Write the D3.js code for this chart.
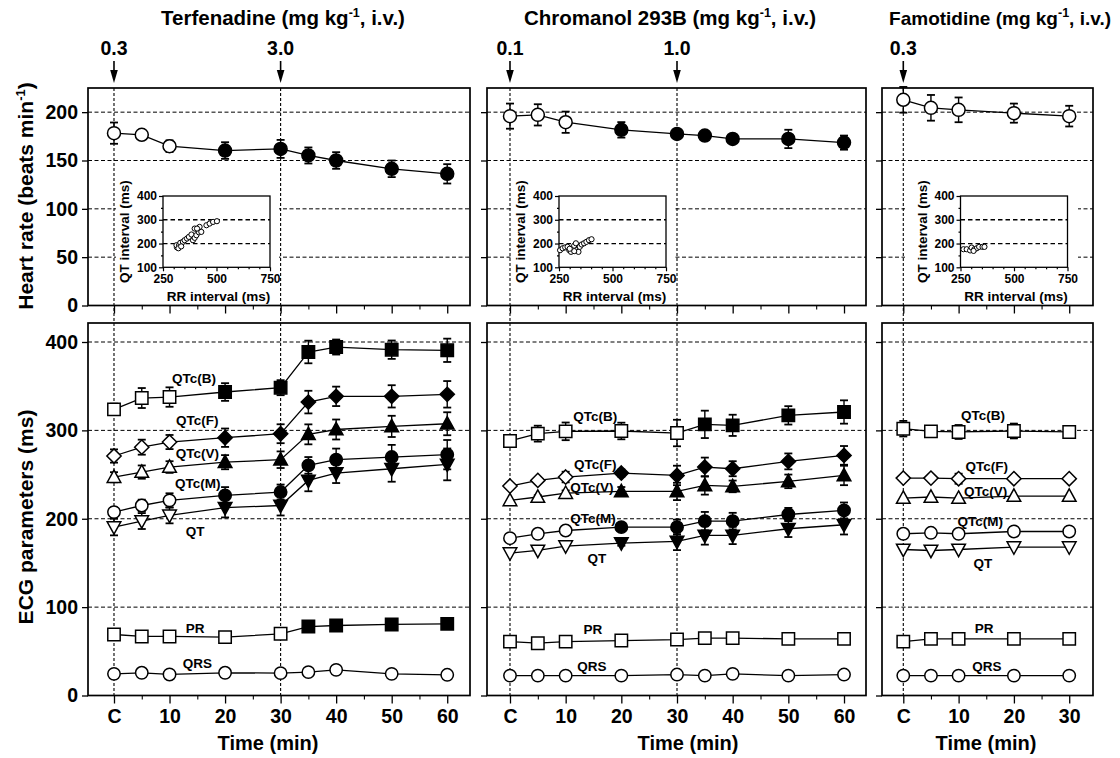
<!DOCTYPE html>
<html><head><meta charset="utf-8">
<script src="https://cdn.jsdelivr.net/npm/d3@7"></script>
<style>
body{margin:0;background:#fff;}
svg text{font-family:"Liberation Sans",Arial,Helvetica,sans-serif;font-weight:bold;fill:#000;}
</style></head><body>
<svg id="chart" width="1120" height="758"></svg>
<script>
// ---------------- DATA ----------------
const timesLong = [0,5,10,20,30,35,40,50,60];
const timesShort = [0,5,10,20,30];
const timeTicksLong = [0,10,20,30,40,50,60];
const timeTicksShort = [0,10,20,30];
const hrTicks = [0,50,100,150,200];
const ecgTicks = [0,100,200,300,400];
const insetYTicks = [100,200,300,400];
const insetXTicks = [250,500,750];

const drugNames = ["Terfenadine","Chromanol 293B","Famotidine"];
const doseLabels = [["0.3","3.0"],["0.1","1.0"],["0.3"]];
const doseTimes = [[0,30],[0,30],[0]];

const seriesNames = ["QTc(B)","QTc(F)","QTc(V)","QTc(M)","QT","PR","QRS"];
const seriesShapes = ["square","diamond","triangle","circle","triangleDown","square","circle"];

// Heart rate (beats/min)
const terfHR    = [178.3,176.6,164.8,160.3,162,155.2,150,141.4,136.2];
const terfHRErr = [11,2,6,8.6,9.3,8.3,8.6,8.6,10];
const chromHR    = [195.9,197.2,189.6,181.7,177.5,175.8,172.3,172.3,168.5];
const chromHRErr = [13,11,11,8,0,0,0,9.5,7.3];
const famoHR    = [212.8,204.5,202.4,199,195.9];
const famoHRErr = [13.3,13.3,12.8,9.9,10.7];
const hrSigFrom = [3,3,99];

// Terfenadine ECG (ms)
const terfQTcB = [323.8,336.6,337.7,343.4,348.3,388.7,394.3,391.3,390.6];
const terfQTcBErr = [6.4,11.3,11,10,8.5,12.8,8.5,10.4,13.2];
const terfQTcF = [271,281,286.8,291.7,296.2,332,338.5,338.5,340.8];
const terfQTcFErr = [7.5,8.5,8,10.4,10.7,12.8,11,12.6,15];
const terfQTcV = [247,252.8,258.5,264,266.8,295.5,301,304.5,307.5];
const terfQTcVErr = [5.7,7.5,6.6,8,9.4,11.3,11.3,12,13];
const terfQTcM = [207.5,215,220.8,226.4,230.2,260.4,266.8,269.8,272.5];
const terfQTcMErr = [5.3,6.6,8,9.4,8.5,9.4,12.6,13.8,16.6];
const terfQT = [190.6,197.4,203.8,212.5,215,243.4,251.7,256.6,261.5];
const terfQTErr = [9.4,9,9,11,11.3,12.3,11.3,14.7,18];
const terfPR = [69,66.8,66.8,66,69.8,78,79.2,80.4,81.1];
const terfQRS = [24.5,25.7,23.8,25.7,25.3,26.4,29,24.5,23.4];
const terfSigFrom = [3,3,3,3,3,5,99];
const terfLabelT = [14.4,15,15,15.1,14.6,14.6,15];
const terfLabelV = [359,311.7,274.4,240.5,186,76.4,36.8];

// Chromanol 293B ECG (ms)
const chromQTcB = [288,296.3,298.9,299.3,297,306.8,305.7,317,320.8];
const chromQTcBErr = [4.7,9,10,9.4,15,15.5,12,10.4,13.2];
const chromQTcF = [237,243.4,247.2,251.7,249,258.5,256.6,264.9,271.7];
const chromQTcFErr = [0,0,6,4,11,10.7,8.5,9,10.6];
const chromQTcV = [220.7,224.6,229,230.9,230.9,237.7,236.6,242.3,249];
const chromQTcVErr = [0,2,3,5,9.8,10.4,6.6,7.7,11];
const chromQTcM = [178,183,186.7,190.5,190.5,197.3,197.3,204.8,209.4];
const chromQTcMErr = [0,0,0,3,8.5,10.4,9.4,7.5,9];
const chromQT = [161.1,164.1,169.1,172.5,174.3,181.1,181.1,188.7,193.2];
const chromQTErr = [0,0,0,3,9.8,10.4,9.8,9.4,11];
const chromPR = [61,59.2,61,62.2,63.3,64.9,64.9,64.1,64.1];
const chromQRS = [22.5,22.5,22.5,22.5,23.7,22.5,24.5,22.5,23.7];
const chromSigFrom = [5,3,3,3,3,99,99];
const chromLabelT = [15.3,15.3,14.7,14.9,15.6,14.9,14.7];
const chromLabelV = [316,261.9,235.8,200.7,155.5,75.1,33.4];

// Famotidine ECG (ms)
const famoQTcB = [301.9,298.9,298.2,299.3,298.2];
const famoQTcBErr = [8.8,4.5,7.9,8.4,2];
const famoQTcF = [246,246,245.3,245.3,245.3];
const famoQTcFErr = [0,0,5.7,0,0];
const famoQTcV = [223.4,224.6,223.4,225.7,225.7];
const famoQTcM = [183,184.1,183,185.6,185.6];
const famoQT = [165.2,164.1,165.2,167.9,167.9];
const famoPR = [61,64.1,64.1,64.1,64.1];
const famoQRS = [22.5,22.5,22.5,22.5,22.5];
const famoSigFrom = [99,99,99,99,99,99,99];
const famoLabelT = [14.4,15.1,14.9,13.9,14.4,14.6,15.1];
const famoLabelV = [317.1,259.4,231.1,197.2,149.7,76.4,33.4];

// Inset QT vs RR scatter (ms)
const terfRR = [315,313,325,331,343,351,362,371,383,390,398,406,414,421,418,429,398,409,453,468,484,502,322,335];
const terfQTi = [184,193,193,203,207,214,221,228,238,214,224,235,256,270,247,249,263,263,277,284,291,294,180,188];
const chromRR = [255,267,279,290,298,306,313,321,329,332,341,347,356,367,378,390,402,321,300];
const chromQTi = [172,180,184,186,172,165,180,191,201,172,165,186,196,201,207,214,218,168,178];
const famoRR = [264,279,295,302,315,326,337,353,362,311];
const famoQTi = [176,176,171,183,176,180,186,186,186,169];

// ---------------- LAYOUT ----------------
const W = 1120, H = 758;
const panelX = [[88,470],[487,866],[882,1093]];
const timeDomains = [[-4.68,64.1],[-4.13,63.95],[-3.85,34.3]];
const topY = [88,305.5], botY = [323,695.5];
const insetX0 = [163,559,960.5], insetW = 107, insetY = [196,267.3];
const insetMask = [[116,279],[512,675],[905,1078]], insetMaskY = [176,303];
const titlePos = [[283,'middle',20.5],[670,'middle',20.5],[1111,'end',19]];
const timeLabelX = [268,688,986];
const ff = '"Liberation Sans",Arial,Helvetica,sans-serif';

const drugs = [
  {times: timesLong, ticks: timeTicksLong, hr: terfHR, hrErr: terfHRErr,
   ser: [terfQTcB,terfQTcF,terfQTcV,terfQTcM,terfQT,terfPR,terfQRS],
   err: [terfQTcBErr,terfQTcFErr,terfQTcVErr,terfQTcMErr,terfQTErr,null,null],
   sig: terfSigFrom, lt: terfLabelT, lv: terfLabelV, rr: terfRR, qt: terfQTi},
  {times: timesLong, ticks: timeTicksLong, hr: chromHR, hrErr: chromHRErr,
   ser: [chromQTcB,chromQTcF,chromQTcV,chromQTcM,chromQT,chromPR,chromQRS],
   err: [chromQTcBErr,chromQTcFErr,chromQTcVErr,chromQTcMErr,chromQTErr,null,null],
   sig: chromSigFrom, lt: chromLabelT, lv: chromLabelV, rr: chromRR, qt: chromQTi},
  {times: timesShort, ticks: timeTicksShort, hr: famoHR, hrErr: famoHRErr,
   ser: [famoQTcB,famoQTcF,famoQTcV,famoQTcM,famoQT,famoPR,famoQRS],
   err: [famoQTcBErr,famoQTcFErr,null,null,null,null,null],
   sig: famoSigFrom, lt: famoLabelT, lv: famoLabelV, rr: famoRR, qt: famoQTi}
];

const svg = d3.select('#chart');
svg.append('rect').attr('width',W).attr('height',H).attr('fill','#fff');

function shapePath(shape, s){
  switch(shape){
    case 'square': return `M${-s},${-s}H${s}V${s}H${-s}Z`;
    case 'diamond': { const d=s*1.15; return `M0,${-d}L${d},0L0,${d}L${-d},0Z`; }
    case 'triangle': return `M0,${-s*1.15}L${s*1.1},${s*0.85}L${-s*1.1},${s*0.85}Z`;
    case 'triangleDown': return `M0,${s*1.15}L${s*1.1},${-s*0.85}L${-s*1.1},${-s*0.85}Z`;
  }
  return null;
}

function drawSeries(g, x, y, times, vals, errs, sigFrom, shape, size){
  const pts = times.map((t,i)=>({t, v: vals[i], e: errs ? errs[i] : 0, f: i >= sigFrom}));
  g.append('path').datum(pts)
    .attr('d', d3.line().x(d=>x(d.t)).y(d=>y(d.v)))
    .attr('fill','none').attr('stroke','#000').attr('stroke-width',1.3);
  const eb = g.append('g').attr('stroke','#000').attr('stroke-width',1.4);
  pts.filter(d=>d.e>0).forEach(d=>{
    const cx = x(d.t), y1 = y(d.v-d.e), y2 = y(d.v+d.e);
    eb.append('line').attr('x1',cx).attr('x2',cx).attr('y1',y1).attr('y2',y2);
    eb.append('line').attr('x1',cx-4).attr('x2',cx+4).attr('y1',y1).attr('y2',y1).attr('stroke-width',1.8);
    eb.append('line').attr('x1',cx-4).attr('x2',cx+4).attr('y1',y2).attr('y2',y2).attr('stroke-width',1.8);
  });
  pts.forEach(d=>{
    let m;
    if(shape==='circle'){
      m = g.append('circle').attr('cx',x(d.t)).attr('cy',y(d.v)).attr('r',size);
    } else {
      m = g.append('path').attr('d',shapePath(shape,size)).attr('transform',`translate(${x(d.t)},${y(d.v)})`);
    }
    m.attr('fill', d.f ? '#000' : '#fff').attr('stroke','#000').attr('stroke-width',1.5);
  });
}

function minorTicks(domain, step){
  const out=[]; for(let t=Math.ceil(domain[0]/step)*step; t<=domain[1]; t+=step){ if(t%10!==0) out.push(t);} return out;
}

drugs.forEach((dr, p)=>{
  const [x0,x1] = panelX[p];
  const x = d3.scaleLinear().domain(timeDomains[p]).range([x0,x1]);
  const yT = d3.scaleLinear().domain([0,225]).range([topY[1],topY[0]]);
  const yB = d3.scaleLinear().domain([0,421.5]).range([botY[1],botY[0]]);
  const g = svg.append('g');

  // title
  const tt = g.append('text').attr('x',titlePos[p][0]).attr('y',25).attr('text-anchor',titlePos[p][1]).attr('font-size',titlePos[p][2]);
  tt.append('tspan').text(drugNames[p]+' (mg kg');
  tt.append('tspan').attr('font-size',12.5).attr('dy',-8).text('-1');
  tt.append('tspan').attr('dy',8).text(', i.v.)');

  // dose labels & arrows
  doseTimes[p].forEach((dt,k)=>{
    const cx = x(dt);
    g.append('text').attr('x',cx).attr('y',55).attr('text-anchor','middle').attr('font-size',19.5).text(doseLabels[p][k]);
    g.append('line').attr('x1',cx).attr('x2',cx).attr('y1',61).attr('y2',72).attr('stroke','#000').attr('stroke-width',1.6);
    g.append('path').attr('d',`M${cx-3.8},${70}L${cx+3.8},${70}L${cx},${83}Z`).attr('fill','#000');
  });

  // gridlines
  const grid = g.append('g').attr('stroke','#000').attr('stroke-width',1).attr('stroke-dasharray','4,2.5');
  hrTicks.filter(v=>v>0).forEach(v=>grid.append('line').attr('x1',x0).attr('x2',x1).attr('y1',yT(v)).attr('y2',yT(v)));
  ecgTicks.filter(v=>v>0).forEach(v=>grid.append('line').attr('x1',x0).attr('x2',x1).attr('y1',yB(v)).attr('y2',yB(v)));

  // inset mask (white background)
  g.append('rect').attr('x',insetMask[p][0]).attr('y',insetMaskY[0])
    .attr('width',insetMask[p][1]-insetMask[p][0]).attr('height',insetMaskY[1]-insetMaskY[0]).attr('fill','#fff');

  // dose vertical lines
  doseTimes[p].forEach(dt=>{
    g.append('line').attr('x1',x(dt)).attr('x2',x(dt)).attr('y1',topY[0]).attr('y2',botY[1])
      .attr('stroke','#000').attr('stroke-width',1.1).attr('stroke-dasharray','3,2');
  });

  // frames
  [topY, botY].forEach(yy=>{
    g.append('rect').attr('x',x0).attr('y',yy[0]).attr('width',x1-x0).attr('height',yy[1]-yy[0])
      .attr('fill','none').attr('stroke','#000').attr('stroke-width',1.7);
  });

  // y axes
  const yaT = d3.axisLeft(yT).tickValues(hrTicks).tickSize(6).tickPadding(4);
  const yaB = d3.axisLeft(yB).tickValues(ecgTicks).tickSize(6).tickPadding(4);
  if(p>0){ yaT.tickFormat(''); yaB.tickFormat(''); }
  [[yaT],[yaB]].forEach(([ax])=>{
    const a = g.append('g').attr('transform',`translate(${x0},0)`).call(ax);
    a.select('.domain').remove();
    a.selectAll('line').attr('stroke','#000').attr('stroke-width',1.3);
    a.selectAll('text').attr('font-size',19.5).attr('font-family',ff).attr('font-weight','bold').attr('fill','#000');
  });

  // x axes (top: ticks only, bottom: labels)
  const mt = minorTicks(timeDomains[p],5);
  [[topY[1],false],[botY[1],true]].forEach(([yy,lab])=>{
    const ax = d3.axisBottom(x).tickValues(dr.ticks).tickSize(8).tickPadding(6)
      .tickFormat(lab ? (d=> d===0 ? 'C' : String(d)) : '');
    const a = g.append('g').attr('transform',`translate(0,${yy})`).call(ax);
    a.select('.domain').remove();
    a.selectAll('line').attr('stroke','#000').attr('stroke-width',1.3);
    a.selectAll('text').attr('font-size',19.5).attr('font-family',ff).attr('font-weight','bold').attr('fill','#000');
    const am = g.append('g').attr('transform',`translate(0,${yy})`).call(d3.axisBottom(x).tickValues(mt).tickSize(4).tickFormat(''));
    am.select('.domain').remove();
    am.selectAll('line').attr('stroke','#000').attr('stroke-width',1.1);
  });

  // time label
  g.append('text').attr('x',timeLabelX[p]).attr('y',750).attr('text-anchor','middle').attr('font-size',20).text('Time (min)');

  // heart-rate series
  drawSeries(g.append('g'), x, yT, dr.times, dr.hr, dr.hrErr, hrSigFrom[p], 'circle', 6.5);

  // ECG series
  dr.ser.forEach((vals,i)=>{
    drawSeries(g.append('g'), x, yB, dr.times, vals, dr.err[i], dr.sig[i], seriesShapes[i], 6.2);
    g.append('text').attr('x',x(dr.lt[i])).attr('y',yB(dr.lv[i])).attr('dy','0.35em')
      .attr('text-anchor','middle').attr('font-size',13.5).text(seriesNames[i]);
  });

  // inset
  const ix = d3.scaleLinear().domain([250,750]).range([insetX0[p], insetX0[p]+insetW]);
  const iy = d3.scaleLinear().domain([100,400]).range([insetY[1], insetY[0]]);
  const ig = g.append('g');
  ig.append('rect').attr('x',insetX0[p]).attr('y',insetY[0]).attr('width',insetW).attr('height',insetY[1]-insetY[0])
    .attr('fill','#fff').attr('stroke','#000').attr('stroke-width',1.3);
  [200,300].forEach(v=>ig.append('line').attr('x1',insetX0[p]).attr('x2',insetX0[p]+insetW).attr('y1',iy(v)).attr('y2',iy(v))
    .attr('stroke','#000').attr('stroke-width',1.3).attr('stroke-dasharray','4.5,3'));
  const iax = ig.append('g').attr('transform',`translate(${insetX0[p]},0)`).call(d3.axisLeft(iy).tickValues(insetYTicks).tickSize(4).tickPadding(2));
  const ibx = ig.append('g').attr('transform',`translate(0,${insetY[1]})`).call(d3.axisBottom(ix).tickValues(insetXTicks).tickSize(4).tickPadding(3));
  const imx = ig.append('g').attr('transform',`translate(0,${insetY[1]})`).call(d3.axisBottom(ix).tickValues(d3.range(300,750,50).filter(v=>v!==500)).tickSize(2).tickFormat(''));
  const imy = ig.append('g').attr('transform',`translate(${insetX0[p]},0)`).call(d3.axisLeft(iy).tickValues([150,250,350]).tickSize(2).tickFormat(''));
  [iax,ibx,imx,imy].forEach(a=>{
    a.select('.domain').remove();
    a.selectAll('line').attr('stroke','#000').attr('stroke-width',1.2);
    a.selectAll('text').attr('font-size',12).attr('font-family',ff).attr('font-weight','bold').attr('fill','#000');
  });
  ig.append('text').attr('x',insetX0[p]+insetW/2+2).attr('y',301).attr('text-anchor','middle').attr('font-size',13.5).text('RR interval (ms)');
  ig.append('text').attr('transform',`translate(${insetX0[p]-34},${(insetY[0]+insetY[1])/2}) rotate(-90)`)
    .attr('text-anchor','middle').attr('font-size',13.5).text('QT interval (ms)');
  dr.rr.forEach((r,k)=>{
    ig.append('circle').attr('cx',ix(r)).attr('cy',iy(dr.qt[k])).attr('r',2.6)
      .attr('fill','#fff').attr('stroke','#000').attr('stroke-width',1);
  });
});

// y-axis titles
const yt1 = svg.append('text').attr('transform','translate(33,196) rotate(-90)').attr('text-anchor','middle').attr('font-size',21);
yt1.append('tspan').text('Heart rate (beats min');
yt1.append('tspan').attr('font-size',13).attr('dy',-8).text('-1');
yt1.append('tspan').attr('dy',8).text(')');
svg.append('text').attr('transform','translate(33,517) rotate(-90)').attr('text-anchor','middle').attr('font-size',21).text('ECG parameters (ms)');
</script>
</body></html>
